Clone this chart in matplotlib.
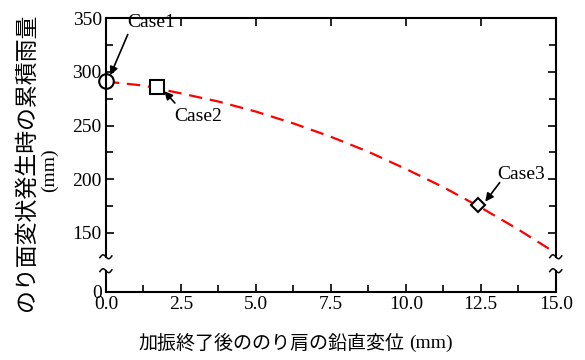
import numpy as np
import matplotlib
matplotlib.use("Agg")
import matplotlib.pyplot as plt
from matplotlib.ticker import FixedLocator

# data
disp = [0.0, 1.25, 2.5, 3.75, 5.0, 6.25, 7.5, 8.75, 10.0, 11.25, 12.5, 13.75, 15.0]
rain = [291, 287.3, 280, 272.4, 263, 252, 239.5, 225.5, 209.5, 192.5, 173.5, 153, 131]

case_names = ["Case1", "Case2", "Case3"]
case_x = [0.0, 1.7, 12.4]
case_y = [292, 285.5, 176]
case_markers = ["o", "s", "D"]

xticks = [0.0, 2.5, 5.0, 7.5, 10.0, 12.5, 15.0]
yticks = [95, 150, 200, 250, 300, 350]
ytick_labels = ["0", "150", "200", "250", "300", "350"]

serif = "Liberation Serif"
jp = "Noto Sans CJK JP"

fig = plt.figure(figsize=(5.85, 3.6), dpi=100)
ax = fig.add_axes([0.181, 0.19, 0.769, 0.759])

ax.plot(disp, rain, color="#ff0000", linestyle=(0, (6, 3.5)), linewidth=1.6, zorder=2)
for x, y, m in zip(case_x, case_y, case_markers):
    ax.plot(x, y, marker=m, markersize=10.5 if m != "D" else 7.5, markerfacecolor="white",
            markeredgecolor="black", markeredgewidth=1.5, linestyle="none",
            clip_on=False, zorder=5)

# labels with arrows
label_pos = [(1.5, 346), (3.07, 258), (13.83, 204)]
arrow_tail = [(0.73, 335), (2.3, 271), (13.13, 196.7)]
arrow_head = [(0.15, 297), (1.95, 282), (12.65, 179)]
for name, lp, at, ah in zip(case_names, label_pos, arrow_tail, arrow_head):
    ax.text(lp[0], lp[1], name, ha="center", va="center", fontsize=14, family=serif)
    ax.annotate("", xy=ah, xytext=at,
                arrowprops=dict(arrowstyle="-|>", color="black", lw=1.2,
                                mutation_scale=12, shrinkA=0, shrinkB=0))

ax.set_xlim(0, 15)
ax.set_ylim(95, 350)
ax.xaxis.set_major_locator(FixedLocator(xticks))
ax.xaxis.set_minor_locator(FixedLocator([1.25, 3.75, 6.25, 8.75, 11.25, 13.75]))
ax.yaxis.set_major_locator(FixedLocator(yticks))
ax.yaxis.set_minor_locator(FixedLocator([175, 225, 275, 325]))
ax.set_yticklabels(ytick_labels)
ax.set_xticklabels(["%.1f" % v for v in xticks])
ax.tick_params(which="both", direction="in", top=True, right=True, width=1.2,
               labelsize=14, pad=3)
ax.tick_params(which="major", length=6)
ax.tick_params(which="minor", length=5, top=False)
for lab in ax.get_xticklabels() + ax.get_yticklabels():
    lab.set_family(serif)

# broken y axis
ax.spines["left"].set_visible(False)
ax.spines["right"].set_visible(False)
for s in ["top", "bottom"]:
    ax.spines[s].set_linewidth(1.5)
brk_lo, brk_hi = 114.5, 127.5
for xs in [0, 15]:
    ax.plot([xs, xs], [95, brk_lo], color="black", lw=1.5, clip_on=False, zorder=6)
    ax.plot([xs, xs], [brk_hi, 350], color="black", lw=1.5, clip_on=False, zorder=6)
    t = np.linspace(-1, 1, 30)
    for yb in [brk_lo, brk_hi]:
        ax.plot(xs + 0.2 * t, yb - 2.2 * np.sin(np.pi * t) + 0.8 * t, color="black",
                lw=1.1, clip_on=False, zorder=6)

fig.text(0.692, 0.047, "加振終了後ののり肩の鉛直変位", family=jp, fontsize=13.7,
         ha="right", va="center")
fig.text(0.699, 0.047, "(mm)", family=serif, fontsize=14, ha="left", va="center")
fig.text(0.044, 0.55, "のり面変状発生時の累積雨量", family=jp, fontsize=16.5,
         rotation=90, ha="center", va="center")
fig.text(0.085, 0.528, "(mm)", family=serif, fontsize=14, rotation=90,
         ha="center", va="center")

fig.savefig("out.png", dpi=100)
